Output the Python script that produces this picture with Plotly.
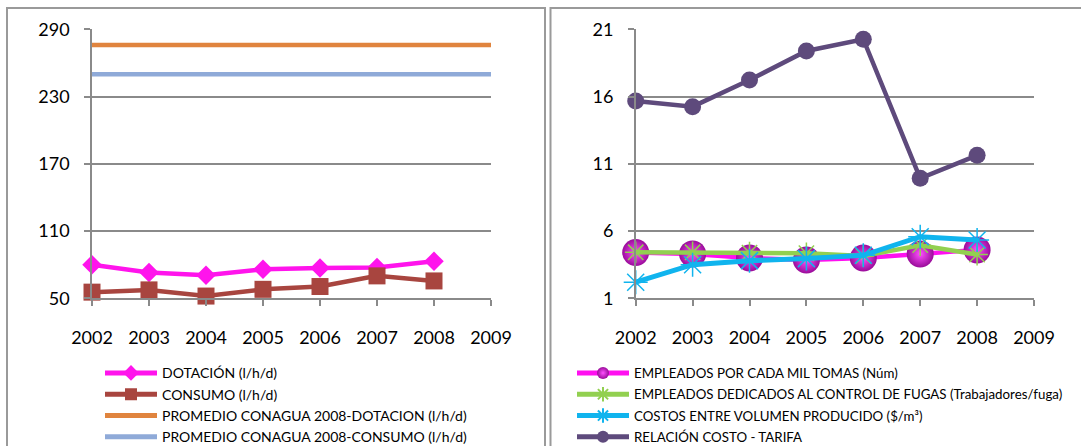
import plotly.graph_objects as go

years = [2002, 2003, 2004, 2005, 2006, 2007, 2008]
years_full = [2002, 2003, 2004, 2005, 2006, 2007, 2008, 2009]

dotacion = [80, 73, 70.5, 76, 77, 77.5, 83]
consumo = [55.5, 57.5, 52, 58, 60.5, 70, 65.5]
prom_dotacion = [276] * 8
prom_consumo = [250] * 8

empleados_mil = [4.4, 4.3, 4.0, 3.85, 4.0, 4.3, 4.6]
empleados_fugas = [4.42, 4.42, 4.4, 4.35, 4.15, 4.95, 4.25]
costos_volumen = [2.2, 3.5, 3.8, 3.95, 4.2, 5.58, 5.33]
relacion_costo = [15.67, 15.25, 17.23, 19.39, 20.26, 9.92, 11.63]

left_yticks = [50, 110, 170, 230, 290]
right_yticks = [1, 6, 11, 16, 21]

W, H = 1081, 446
FONT = "Lato"
GRID = "#8a8a8a"

def px_x(p):
    return p / W

def px_y(p):
    return 1 - p / H

fig = go.Figure()

# Left chart
fig.add_trace(go.Scatter(x=years, y=dotacion, name="DOTACIÓN (l/h/d)", mode="lines+markers",
                         line=dict(color="#FF14EC", width=4.5),
                         marker=dict(symbol="diamond", size=15, color="#FF14EC"),
                         xaxis="x", yaxis="y", legend="legend", cliponaxis=False))
fig.add_trace(go.Scatter(x=years, y=consumo, name="CONSUMO (l/h/d)", mode="lines+markers",
                         line=dict(color="#A8453F", width=4.5),
                         marker=dict(symbol="square", size=17, color="#A8453F"),
                         xaxis="x", yaxis="y", legend="legend2", cliponaxis=False))
fig.add_trace(go.Scatter(x=years_full, y=prom_dotacion, name="PROMEDIO CONAGUA 2008-DOTACION (l/h/d)",
                         mode="lines", line=dict(color="#E0843E", width=4.5),
                         xaxis="x", yaxis="y", legend="legend3", cliponaxis=False))
fig.add_trace(go.Scatter(x=years_full, y=prom_consumo, name="PROMEDIO CONAGUA 2008-CONSUMO (l/h/d)",
                         mode="lines", line=dict(color="#8FAAD8", width=4.5),
                         xaxis="x", yaxis="y", legend="legend4", cliponaxis=False))

# Right chart
fig.add_trace(go.Scatter(x=years, y=empleados_mil, name="EMPLEADOS POR CADA MIL TOMAS (Núm)",
                         mode="lines+markers", line=dict(color="#FF10F0", width=4.5),
                         marker=dict(symbol="circle", size=27, color="#9A0C9A",
                                     gradient=dict(type="radial", color="#FF50FF")),
                         xaxis="x2", yaxis="y2", legend="legend5", cliponaxis=False))
fig.add_trace(go.Scatter(x=years, y=empleados_fugas,
                         name="EMPLEADOS DEDICADOS AL CONTROL DE FUGAS (Trabajadores/fuga)",
                         mode="lines+markers", line=dict(color="#92D050", width=4.5),
                         marker=dict(symbol="asterisk-open", size=18,
                                     line=dict(color="#92D050", width=1.5)),
                         xaxis="x2", yaxis="y2", legend="legend6", cliponaxis=False))
fig.add_trace(go.Scatter(x=years, y=costos_volumen, name="COSTOS ENTRE VOLUMEN PRODUCIDO ($/m³)",
                         mode="lines+markers", line=dict(color="#10B4EE", width=5),
                         marker=dict(symbol="asterisk-open", size=20,
                                     line=dict(color="#10B4EE", width=1.5)),
                         xaxis="x2", yaxis="y2", legend="legend7", cliponaxis=False))
fig.add_trace(go.Scatter(x=years, y=relacion_costo, name="RELACIÓN COSTO - TARIFA",
                         mode="lines+markers", line=dict(color="#5E4A7C", width=4.5),
                         marker=dict(symbol="circle", size=17, color="#5E4A7C"),
                         xaxis="x2", yaxis="y2", legend="legend8", cliponaxis=False))

xcommon = dict(type="linear", range=[2002, 2009], tickvals=years_full, ticktext=[str(y) for y in years_full],
               showgrid=False, zeroline=False, showline=True, linecolor=GRID, linewidth=1.5,
               ticks="outside", ticklen=6, tickwidth=1.5, tickcolor=GRID,
               tickfont=dict(family=FONT, size=18, color="#000"), ticklabelstandoff=16)
ycommon = dict(showgrid=True, gridcolor=GRID, gridwidth=1.5, zeroline=False, showline=True,
               linecolor=GRID, linewidth=1.5, ticks="outside", ticklen=6, tickwidth=1.5, tickcolor=GRID,
               tickfont=dict(family=FONT, size=18, color="#000"), ticklabelstandoff=11)

y_dom = [px_y(298.3), px_y(29.3)]

def legend_style(size):
    return dict(font=dict(family=FONT, size=size, color="#000"), bgcolor="rgba(0,0,0,0)",
                itemwidth=52, itemsizing="constant", yanchor="middle", xanchor="left",
                itemclick=False, itemdoubleclick=False)

row_y = [373.3, 394.6, 415.9, 437.2]
legends = {}
for i, ry in enumerate(row_y):
    legends["legend" if i == 0 else f"legend{i + 1}"] = dict(x=px_x(100), y=px_y(ry), **legend_style(14))
    legends[f"legend{i + 5}"] = dict(x=px_x(572), y=px_y(ry), **legend_style(13.3))

fig.update_layout(
    width=W, height=H, margin=dict(l=0, r=0, t=0, b=0, autoexpand=False),
    paper_bgcolor="white", plot_bgcolor="white",
    xaxis=dict(domain=[px_x(92), px_x(491)], anchor="y", **xcommon),
    yaxis=dict(domain=y_dom, anchor="x", range=[50, 290], tickvals=left_yticks, **ycommon),
    xaxis2=dict(domain=[px_x(635.7), px_x(1034)], anchor="y2", **xcommon),
    yaxis2=dict(domain=y_dom, anchor="x2", range=[1, 21], tickvals=right_yticks, **ycommon),
    showlegend=True,
    shapes=[
        dict(type="rect", xref="paper", yref="paper", x0=px_x(7), x1=px_x(545), y0=-0.05, y1=px_y(8),
             line=dict(color="#9a9a9a", width=2), layer="below"),
        dict(type="rect", xref="paper", yref="paper", x0=px_x(550.5), x1=1.05, y0=-0.05, y1=px_y(8),
             line=dict(color="#9a9a9a", width=2), layer="below"),
    ],
)
fig.update_layout(**legends)

fig.write_html("out.html", config={"displayModeBar": False},
               post_script="document.body.style.margin='0px';document.body.style.overflow='hidden';")
